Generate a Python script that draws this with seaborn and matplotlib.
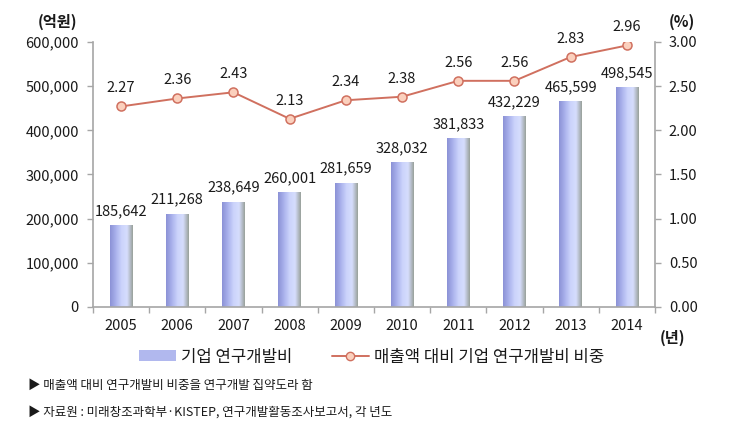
import numpy as np
import pandas as pd
import seaborn as sns
import matplotlib.pyplot as plt
from matplotlib.colors import LinearSegmentedColormap
from matplotlib.patches import Patch
from matplotlib.lines import Line2D
from matplotlib.ticker import FuncFormatter, MultipleLocator, FixedLocator

years = ["2005", "2006", "2007", "2008", "2009", "2010", "2011", "2012", "2013", "2014"]
rnd_cost = [185642, 211268, 238649, 260001, 281659, 328032, 381833, 432229, 465599, 498545]
rnd_ratio = [2.27, 2.36, 2.43, 2.13, 2.34, 2.38, 2.56, 2.56, 2.83, 2.96]

bar_label = "기업 연구개발비"
line_label = "매출액 대비 기업 연구개발비 비중"
notes = [
    "▶ 매출액 대비 연구개발비 비중을 연구개발 집약도라 함",
    "▶ 자료원 : 미래창조과학부·KISTEP, 연구개발활동조사보고서, 각 년도",
]

sns.set_theme(style="white")
plt.rcParams["font.family"] = ["Noto Sans CJK KR", "DejaVu Sans"]

df = pd.DataFrame({"year": years, "cost": rnd_cost, "ratio": rnd_ratio})

grey = "#a6a6a6"
text_c = "#1a1a1a"
line_c = "#d0705f"

fig = plt.figure(figsize=(7.43, 4.37), dpi=100)
ax = fig.add_axes([0.125, 0.2975, 0.7566, 0.6065])

sns.barplot(data=df, x="year", y="cost", color="#aab1ea", width=0.4,
            edgecolor="none", ax=ax, zorder=2)

# horizontal gradient on each bar
grad = LinearSegmentedColormap.from_list(
    "bar", ["#8c92d6", "#a9b1ec", "#cbd3fb", "#d6ddfd", "#9aa29c"])
gimg = np.linspace(0, 1, 64).reshape(1, -1)
for p in ax.patches:
    x0, w, h = p.get_x(), p.get_width(), p.get_height()
    im = ax.imshow(gimg, cmap=grad, aspect="auto", extent=[x0, x0 + w, 0, h],
                   zorder=2.5)
    im.set_clip_path(p)
ax.set_xlim(-0.5, len(years) - 0.5)
ax.set_ylim(0, 600000)

for i, v in enumerate(rnd_cost):
    ax.annotate(f"{v:,}", (i, v), xytext=(0, 5), textcoords="offset points",
                ha="center", va="bottom", fontsize=10.5, color=text_c)

ax2 = ax.twinx()
sns.lineplot(x=np.arange(len(years)), y=rnd_ratio, ax=ax2, color=line_c, lw=1.4,
             marker="o", markersize=6.5, markerfacecolor="#fbd0bd",
             markeredgecolor=line_c, markeredgewidth=1.1, zorder=3)
ax2.set_ylim(0, 3.0)
ax2.set_xlim(-0.5, len(years) - 0.5)
for i, v in enumerate(rnd_ratio):
    ax2.annotate(f"{v:.2f}", (i, v), xytext=(0, 8), textcoords="offset points",
                 ha="center", va="bottom", fontsize=10.5, color=text_c)

ax.yaxis.set_major_locator(MultipleLocator(100000))
ax.yaxis.set_major_formatter(FuncFormatter(lambda v, p: f"{int(v):,}"))
ax2.yaxis.set_major_locator(MultipleLocator(0.5))
ax2.yaxis.set_major_formatter(FuncFormatter(lambda v, p: f"{v:.2f}"))
ax2.set_ylabel("")
ax.set_xlabel("")
ax.set_ylabel("")

ax.xaxis.set_minor_locator(FixedLocator(np.arange(-0.5, len(years), 1.0)))
ax.tick_params(axis="x", which="major", length=0, labelsize=10.5, colors=text_c, pad=9)
ax.tick_params(axis="x", which="minor", bottom=True, length=4, color=grey, width=1)
ax.tick_params(axis="y", left=True, length=4, color=grey, width=1,
               labelsize=10.5, labelcolor=text_c, pad=6)
ax2.tick_params(axis="y", right=True, length=4, color=grey, width=1,
                labelsize=10.5, labelcolor=text_c, pad=6)
ax.tick_params(axis="x", labelcolor=text_c)

for a in (ax, ax2):
    a.spines["top"].set_visible(False)
    for s in ("left", "right", "bottom"):
        a.spines[s].set_color(grey)
        a.spines[s].set_linewidth(1.2)
ax.spines["right"].set_visible(False)
ax2.spines["left"].set_visible(False)
ax2.spines["bottom"].set_visible(False)

fig.text(0.078, 0.95, "(억원)", ha="center", va="center", fontsize=11,
         fontweight="bold", color=text_c)
fig.text(0.918, 0.95, "(%)", ha="center", va="center", fontsize=11,
         fontweight="bold", color=text_c)
fig.text(0.905, 0.226, "(년)", ha="center", va="center", fontsize=11,
         fontweight="bold", color=text_c)

handles = [
    Patch(facecolor="#b1b8ee", edgecolor="none"),
    Line2D([], [], color=line_c, lw=1.4, marker="o", markersize=6,
           markerfacecolor="#fbd0bd", markeredgecolor=line_c),
]
fig.legend(handles, [bar_label, line_label], loc="center",
           bbox_to_anchor=(0.5, 0.183), ncol=2, frameon=False, fontsize=12,
           handlelength=2.2, handleheight=0.6, handletextpad=0.3, columnspacing=2.4,
           labelcolor=text_c)

fig.text(0.038, 0.118, notes[0], ha="left", va="center", fontsize=9, color=text_c)
fig.text(0.038, 0.058, notes[1], ha="left", va="center", fontsize=9, color=text_c)

fig.savefig("out.png", dpi=100)
